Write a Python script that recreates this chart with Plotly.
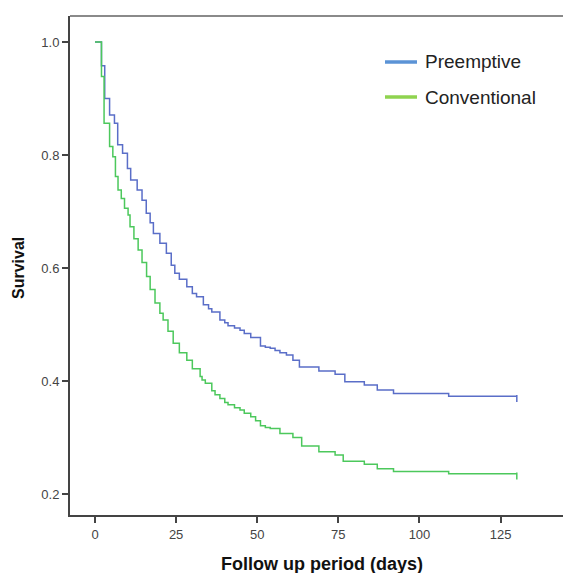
import plotly.graph_objects as go

# Preemptive group: event times (days) and Kaplan-Meier survival after each step
pre_days = [0, 2, 3, 4.5, 6, 7, 8.5, 10, 11, 13, 14.5, 15.8, 17, 18, 20, 22, 23.5, 24.6,
            26, 28.3, 30, 31.3, 33.4, 35, 36, 38.5, 40, 41, 43, 44.7, 46, 48, 51, 52.5, 54,
            55.5, 57, 59, 61, 63, 69, 74, 77, 83, 87, 92, 109, 130]
pre_surv = [1.0, 0.958, 0.900, 0.871, 0.856, 0.818, 0.803, 0.776, 0.756, 0.738, 0.720, 0.697,
            0.680, 0.661, 0.644, 0.626, 0.605, 0.591, 0.580, 0.567, 0.555, 0.549, 0.535, 0.528,
            0.522, 0.508, 0.503, 0.498, 0.494, 0.490, 0.484, 0.477, 0.462, 0.460, 0.458, 0.454,
            0.450, 0.446, 0.437, 0.425, 0.418, 0.412, 0.399, 0.393, 0.384, 0.378, 0.373, 0.373]

# Conventional group
con_days = [0, 2, 2.8, 4.5, 5.5, 6.3, 7.1, 8.1, 9.1, 10.2, 10.8, 12, 13.3, 14.5, 15.9, 17,
            18.5, 20, 21, 22.5, 24.1, 26, 28.3, 30, 32.4, 33, 34, 36, 37, 38.5, 40, 41, 43,
            44.7, 46, 48, 49.5, 51, 52.5, 54, 57, 61, 63.7, 69, 74, 76.5, 83, 87, 92, 109, 130]
con_surv = [1.0, 0.939, 0.856, 0.815, 0.797, 0.762, 0.738, 0.723, 0.706, 0.694, 0.673, 0.652,
            0.632, 0.610, 0.585, 0.562, 0.538, 0.520, 0.508, 0.488, 0.467, 0.450, 0.437, 0.422,
            0.408, 0.402, 0.396, 0.383, 0.376, 0.369, 0.362, 0.358, 0.353, 0.349, 0.343, 0.337,
            0.330, 0.321, 0.318, 0.316, 0.307, 0.300, 0.285, 0.275, 0.269, 0.258, 0.253, 0.245,
            0.240, 0.236, 0.236]

x_ticks = [0, 25, 50, 75, 100, 125]
y_ticks = [0.2, 0.4, 0.6, 0.8, 1.0]
group_names = ["Preemptive", "Conventional"]
curve_colors = ["#5a6ec8", "#4cc85c"]
legend_colors = ["#5b93d6", "#8fd34f"]

fig = go.Figure()
fig.add_trace(go.Scatter(x=pre_days, y=pre_surv, mode="lines", line_shape="hv",
                         line=dict(color=curve_colors[0], width=1.5), name=group_names[0],
                         showlegend=False))
fig.add_trace(go.Scatter(x=con_days, y=con_surv, mode="lines", line_shape="hv",
                         line=dict(color=curve_colors[1], width=1.5), name=group_names[1],
                         showlegend=False))
# censor ticks at the end (hanging below the line)
fig.add_trace(go.Scatter(x=[pre_days[-1], con_days[-1]], y=[pre_surv[-1] - 0.004, con_surv[-1] - 0.004],
                         mode="markers", marker=dict(symbol="line-ns", size=5,
                         line=dict(width=1.5, color=curve_colors)), showlegend=False,
                         hoverinfo="skip"))

tickfont = dict(family="Liberation Sans, Arial, sans-serif", size=13, color="#444")
fig.update_xaxes(range=[-7.7, 146.7], tickvals=x_ticks, ticks="outside", ticklen=6,
                 tickwidth=1.5, tickcolor="#444", showline=True, linecolor="#444", linewidth=2,
                 showgrid=False, zeroline=False, tickfont=tickfont)
fig.update_yaxes(range=[0.163, 1.046], tickvals=y_ticks, tickformat=".1f", ticks="outside",
                 ticklen=6, tickwidth=1.5, tickcolor="#444", showline=True, linecolor="#444",
                 linewidth=2, showgrid=False, zeroline=False, tickfont=tickfont)

fig.add_shape(type="line", xref="paper", yref="paper", x0=0, x1=1, y0=1, y1=1,
              line=dict(color="#8a8a8a", width=2))

# legend drawn manually (paper coords relative to plot area: x 70..571, y 16..515 px)
for i, (nm, col) in enumerate(zip(group_names, legend_colors)):
    ypix = 62 + i * 35
    yp = 1 - (ypix - 16) / (515 - 16)
    x0 = (385 - 70) / (571 - 70)
    x1 = (417 - 70) / (571 - 70)
    fig.add_shape(type="line", xref="paper", yref="paper", x0=x0, x1=x1, y0=yp, y1=yp,
                  line=dict(color=col, width=3.5))
    fig.add_annotation(xref="paper", yref="paper", x=(423 - 70) / (571 - 70), y=yp,
                       text=nm, showarrow=False, xanchor="left", yanchor="middle",
                       font=dict(family="Liberation Sans, Arial, sans-serif", size=19, color="#222"))

fig.add_annotation(xref="paper", yref="paper", x=(322 - 70) / (571 - 70),
                   y=-(564 - 515) / (515 - 16), text="<b>Follow up period (days)</b>",
                   showarrow=False, xanchor="center", yanchor="middle",
                   font=dict(family="Liberation Sans, Arial, sans-serif", size=18, color="#111"))
fig.add_annotation(xref="paper", yref="paper", x=-(70 - 18) / (571 - 70),
                   y=1 - (268 - 16) / (515 - 16), text="<b>Survival</b>", textangle=-90,
                   showarrow=False, xanchor="center", yanchor="middle",
                   font=dict(family="Liberation Sans, Arial, sans-serif", size=16, color="#111"))

# page body has an 8px margin, so the figure is 8px smaller and the margins compensate
fig.update_layout(width=563, height=565, margin=dict(l=62, r=0, t=8, b=58),
                  paper_bgcolor="white", plot_bgcolor="white")

fig.write_html("out.html")
